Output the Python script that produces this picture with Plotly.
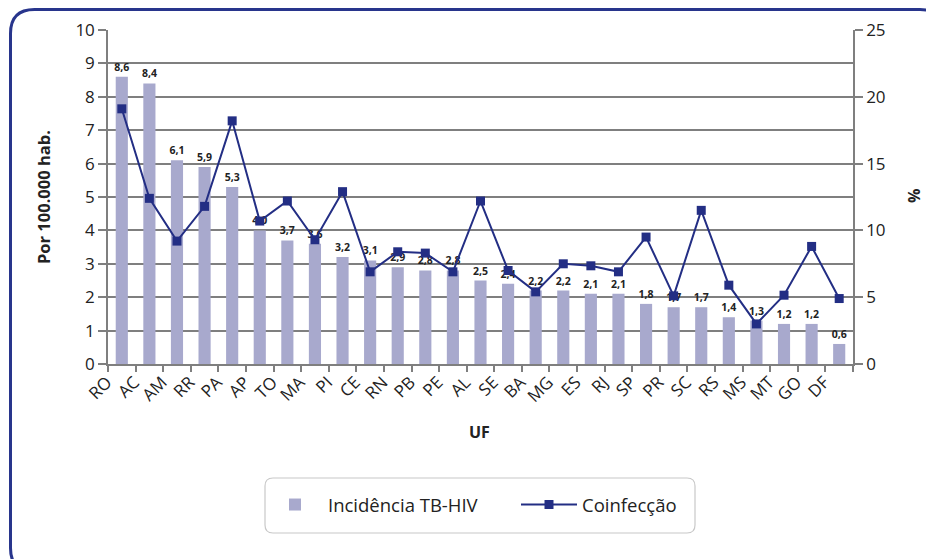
import plotly.graph_objects as go

ufs = ["RO","AC","AM","RR","PA","AP","TO","MA","PI","CE","RN","PB","PE","AL","SE",
       "BA","MG","ES","RJ","SP","PR","SC","RS","MS","MT","GO","DF"]
incidencia = [8.6,8.4,6.1,5.9,5.3,4.0,3.7,3.6,3.2,3.1,2.9,2.8,2.8,2.5,2.4,
              2.2,2.2,2.1,2.1,1.8,1.7,1.7,1.4,1.3,1.2,1.2,0.6]
coinfeccao = [19.1,12.4,9.2,11.8,18.2,10.7,12.2,9.3,12.9,6.9,8.4,8.3,6.9,12.2,7.0,
              5.4,7.5,7.35,6.9,9.5,5.1,11.5,5.9,3.0,5.15,8.8,4.9]
y_left_ticks = list(range(0, 11))
y_right_ticks = [0, 5, 10, 15, 20, 25]

FONT = "Open Sans"
BAR = "#a8a9cd"
NAVY = "#232e84"
GRID = "#7f7f7f"
TXT = "#222222"

OFF = 8  # page body margin
W, H = 934 - OFF, 559 - OFF
# plot area in screen pixels: x 108..853, y 30..364
SL, SR, ST, SB = 108, 853, 30, 364
pw, ph = SR - SL, SB - ST
L, T = SL - OFF, ST - OFF
R, B = W - L - pw, H - T - ph

def px(x):
    return (x - SL) / pw

def py(y):
    return (SB - y) / ph

fig = go.Figure()
fig.add_trace(go.Bar(
    x=ufs, y=incidencia, name="Incidência TB-HIV",
    marker=dict(color=BAR, line=dict(width=0)),
    text=[f"{v:.1f}".replace(".", ",") for v in incidencia],
    textposition="outside", cliponaxis=False, constraintext="none",
    textfont=dict(family=FONT, size=10.5, color=TXT, weight="bold"),
    yaxis="y",
))
fig.add_trace(go.Scatter(
    x=ufs, y=coinfeccao, name="Coinfecção", mode="lines+markers",
    line=dict(color=NAVY, width=2),
    marker=dict(symbol="square", size=9, color=NAVY),
    yaxis="y2", cliponaxis=False,
))

# frame with rounded corners
x0, x1 = px(10.5), px(944)
y0, y1 = py(9.5), py(572)
rx, ry = 24 / pw, 24 / ph
path = (f"M {x0},{y1+ry} L {x0},{y0-ry} Q {x0},{y0} {x0+rx},{y0} "
        f"L {x1-rx},{y0} Q {x1},{y0} {x1},{y0-ry} L {x1},{y1+ry} "
        f"Q {x1},{y1} {x1-rx},{y1} L {x0+rx},{y1} Q {x0},{y1} {x0},{y1+ry} Z")
shapes = [dict(type="path", xref="paper", yref="paper", path=path,
               line=dict(color="#28358c", width=3), layer="below")]

# legend box
lx0, lx1, ly0, ly1 = px(265), px(695), py(478), py(533)
lrx, lry = 8 / pw, 8 / ph
lpath = (f"M {lx0},{ly1+lry} L {lx0},{ly0-lry} Q {lx0},{ly0} {lx0+lrx},{ly0} "
         f"L {lx1-lrx},{ly0} Q {lx1},{ly0} {lx1},{ly0-lry} L {lx1},{ly1+lry} "
         f"Q {lx1},{ly1} {lx1-lrx},{ly1} L {lx0+lrx},{ly1} Q {lx0},{ly1} {lx0},{ly1+lry} Z")
shapes.append(dict(type="path", xref="paper", yref="paper", path=lpath,
                   line=dict(color="#c8c8c8", width=1.2)))

annotations = [
    dict(text="<b>Por 100.000 hab.</b>", xref="paper", yref="paper", x=px(43), y=py(197),
         xanchor="center", yanchor="middle",
         textangle=-90, showarrow=False, font=dict(family=FONT, size=16.5, color=TXT)),
    dict(text="<b>%</b>", xref="paper", yref="paper", x=px(914), y=py(196),
         xanchor="center", yanchor="middle",
         textangle=-90, showarrow=False, font=dict(family=FONT, size=16, color=TXT)),
    dict(text="<b>UF</b>", xref="paper", yref="paper", x=px(479), y=py(432),
         xanchor="center", yanchor="middle",
         showarrow=False, font=dict(family=FONT, size=16, color=TXT)),
]

fig.update_layout(
    width=W, height=H,
    margin=dict(l=L, r=R, t=T, b=B, pad=0),
    paper_bgcolor="white", plot_bgcolor="white",
    font=dict(family=FONT, color=TXT),
    bargap=0.56,
    showlegend=True,
    legend=dict(orientation="h", x=px(262), xanchor="left", y=py(505), yanchor="middle",
                font=dict(family=FONT, size=18.5, color=TXT),
                bgcolor="rgba(0,0,0,0)", borderwidth=0, itemwidth=56,
                entrywidth=183, tracegroupgap=0),
    shapes=shapes,
    annotations=annotations,
    xaxis=dict(
        automargin=False,
        range=[-0.5, len(ufs) - 0.5],
        showline=True, linecolor=GRID, linewidth=1.5,
        ticks="outside", ticklen=6, tickcolor=GRID, tickwidth=1.5,
        tickson="boundaries", tickangle=-45,
        ticklabelshift=-15,
        tickfont=dict(family=FONT, size=17, color=TXT),
        showgrid=False,
    ),
    yaxis=dict(
        automargin=False,
        range=[0, 10], tickvals=y_left_ticks,
        showline=True, linecolor=GRID, linewidth=1.5,
        ticks="outside", ticklen=8, tickcolor=GRID, tickwidth=1.5,
        showgrid=True, gridcolor=GRID, gridwidth=1.5,
        tickfont=dict(family=FONT, size=17, color=TXT),
        zeroline=False,
    ),
    yaxis2=dict(
        automargin=False,
        range=[0, 25], tickvals=y_right_ticks, overlaying="y", side="right",
        showline=True, linecolor=GRID, linewidth=1.5,
        ticks="outside", ticklen=8, tickcolor=GRID, tickwidth=1.5,
        showgrid=False, zeroline=False,
        tickfont=dict(family=FONT, size=17, color=TXT),
    ),
)

fig.write_html("out.html")
